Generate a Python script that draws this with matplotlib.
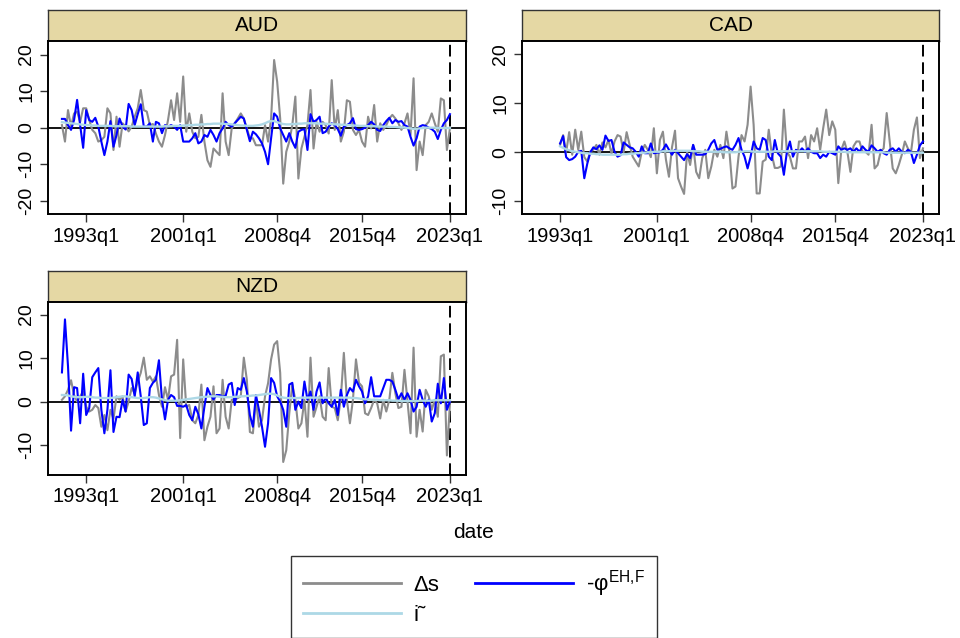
import numpy as np
import matplotlib.pyplot as plt

plt.rcParams['font.family'] = ['Liberation Sans', 'DejaVu Sans']
plt.rcParams['mathtext.fontset'] = 'custom'
plt.rcParams['mathtext.rm'] = 'Liberation Sans'
plt.rcParams['axes.unicode_minus'] = False

# quarterly data, Stata %tq style index (1960q1 = 0)
aud_ds = [0.7, -3.8, 4.8, 0.3, 3.9, 4.4, 1.6, 5.3, 5.3, 2.1,
          -0.6, -1.5, -3.8, -3.4, -2.5, 5.3, 3.9, -6.1, 3.0, -5.2,
          1.2, 0.3, -1.0, 0.3, 3.0, 5.3, 10.3, 4.8, 4.4, 0.7,
          1.0, -1.6, -3.8, -5.2, -2.0, 2.1, 7.5, 2.1, 9.4, 1.6,
          14.0, -1.1, 3.9, -1.1, -2.9, -2.5, 3.5, -3.8, -8.9, -10.7,
          -5.7, -6.6, -7.5, 9.4, -3.8, -7.5, -0.2, 1.2, 2.5, 3.9,
          2.5, -0.2, -2.9, -2.9, -4.8,
          -4.8, -4.8, 0.7, -3.8, 2.5, 18.5, 12.6, 2.5, -15.3, -6.6,
          -3.8, 0.7, 8.5, -13.9, -5.7, -2.5, 0.7, 10.3, -5.7, 1.6,
          -1.1, 1.6, 0.7, -1.6, 13.0, -0.6, 4.8, -3.8, -1.1, 7.5,
          7.1, -0.6, -2.0, -0.6, -3.8, -5.2, 3.0, -0.2, 6.2, -3.8,
          1.2, -0.6, 0.7, 2.5, 3.5, 2.5, 1.2, -0.6, 1.2, 3.9,
          -2.0, 13.5, -11.6, -3.8, -7.5, 0.7, 1.6, 3.9, 1.2, -1.1,
          8.0, 7.5, -6.1, -0.2]
aud_phi = [2.4, 2.4, 0.7, -0.6, 2.1, 7.6, 0.7, -5.5, 4.8, 2.1,
           1.6, 2.7, 0.3, -3.8, -7.5, -3.8, 1.8, -5.2, -2.0, 2.5,
           0.3, -0.5, 6.5, 4.8, 0.7, 3.7, 6.4, 0.3, 0.3, 1.2,
           -3.8, 1.6, 1.2, -1.5, 0.7, 0.3, 0.7, 0.3, -0.6, 0.7,
           -3.8, -3.8, -3.8, -2.9, -1.5, -4.3, -3.8, -2.0, -2.5, -0.6,
           -2.0, -3.8, -1.5, -0.2, 1.6, 0.7, 0.3, 1.2, 2.1, 3.0,
           2.5, -0.6, -3.7, -1.1, -1.8,
           -2.9, -4.3, -6.6, -10.0, -2.9, 3.9, 3.0, -0.2, -2.0, -3.8,
           -1.5, -3.8, -5.5, -1.1, -0.6, -0.4, -6.1, 3.7, 1.6, 2.1,
           3.0, -1.5, -1.1, 0.3, 1.2, 0.7, -0.4, -2.2, 0.3, 0.7,
           1.2, 2.6, -0.4, -0.6, -0.4, 0.0, 0.7, 1.6, 0.9, -0.6,
           -0.9, 0.7, 1.8, 2.7, 1.2, 2.1, 1.6, 1.8, 0.7, 0.3,
           -2.5, -4.9, -2.9, 0.3, 0.7, 0.5, 0.0, -0.4, -1.1, -3.1,
           -0.6, 1.2, 2.1, 3.7]
aud_i = [1.5, 1.4, 1.3, 1.2, 1.1, 1.0, 0.9, 0.8, 0.7, 0.7,
         0.6, 0.6, 0.5, 0.5, 0.5, 0.5, 0.5, 0.4, 0.4, 0.4,
         0.4, 0.4, 0.4, 0.3, 0.3, 0.3, 0.3, 0.3, 0.3, 0.3,
         0.3, 0.3, 0.3, 0.3, 0.4, 0.4, 0.4, 0.5, 0.5, 0.5,
         0.6, 0.6, 0.7, 0.7, 0.8, 0.8, 0.9, 0.9, 1.0, 1.0,
         1.1, 1.1, 1.1, 1.1, 1.0, 1.0, 0.9, 0.8, 0.7, 0.6,
         0.6, 0.5, 0.5, 0.5, 0.6, 0.7, 0.9, 1.2, 1.6, 1.8,
         1.8, 1.5, 1.2, 1.0, 0.9, 0.9, 1.0, 1.0, 1.1, 1.1,
         1.2, 1.2, 1.2, 1.2, 1.2, 1.1, 1.1, 1.1, 1.0, 1.0,
         0.9, 0.9, 0.8, 0.8, 0.7, 0.7, 0.6, 0.6, 0.5, 0.5,
         0.5, 0.4, 0.4, 0.4, 0.3, 0.3, 0.3, 0.3, 0.2, 0.2,
         0.2, 0.1, 0.1, 0.0, -0.1, -0.2, -0.3, -0.3, -0.2, -0.1,
         0.0, 0.0, 0.0, 0.0, -0.1, -0.1, -0.1, -0.1, -0.1]

cad_ds = [1.5, 3.5, 0.0, 4.1, -0.5, 4.6, 0.5, 4.2, -1.0, -1.9,
          0.2, 0.5, 1.5, -0.5, 2.0, 1.0, 2.5, -0.3, 2.2, 3.5,
          3.2, 0.0, 4.1, 1.5, -0.9, -1.9, -2.9, 0.1, 1.5, 0.5,
          -1.0, 4.9, -4.3, 2.5, 4.2, -1.5, -5.0, 1.0, 4.4, -5.3,
          -7.0, -8.5, 0.0, -2.6, 1.5, -4.0, -5.3, -1.2, 0.5, -5.3,
          -2.9, 0.5, -0.9, 1.5, -1.2,
          4.2, 0.1, -7.4, -7.0, -0.9, 3.5, 2.2, 5.6, 13.4, 5.6,
          -8.4, -8.4, -1.9, -1.5, 4.6, -0.5, -3.2, -3.2, -2.9,
          8.7, 0.1, -0.9, -3.3, -3.3, 2.2, 2.2, 3.2, -1.2, 3.5,
          2.2, 4.9, 0.5, 4.9, 8.7, 3.5, 6.3, 4.6, -6.3, 0.5,
          2.2, 0.1, -4.0, 1.2, 2.2, 2.2, 0.1, 0.1, -0.5, 5.6,
          -3.3, -2.6, 0.1, 0.8, 8.0, 2.2, -3.3, -4.3, -2.6, -0.5,
          2.2, 0.8, -0.2, 4.6, 7.1, -1.2, 0.8]
cad_phi = [1.8, 3.3, -1.0, -1.6, -1.4, -0.9, 0.1, 0.3, -5.3, -2.3,
           0.0, 1.0, 0.6, 1.4, 0.5, 3.4, 2.3, 2.5, 0.1, -0.9,
           -0.6, 2.0, 1.5, 1.0, 0.8, 0.1, -0.9, 1.2, -0.2, -0.2,
           1.8, -0.2, -0.1, 0.0, 0.5, 1.6, 0.5, -0.5, 0.5, -0.2,
           -0.9, -1.6, -0.4, -1.2, 1.5, -0.5, -0.5, -0.5, -0.4, 0.5,
           1.8, 2.5, 0.5, 0.7, 1.0,
           1.2, 0.8, 0.5, 1.5, 2.9, 0.5, -0.9, -3.3, -0.9, 2.2,
           0.8, 0.5, 2.9, 2.5, -0.9, -1.6, 2.5, -0.2, -0.9, -4.6,
           0.1, 2.2, -0.9, 0.5, 0.1, 0.8, 0.1, 0.8, 0.1, -0.2,
           -0.2, -1.2, -0.5, -0.9, 0.1, -0.2, -0.5, 1.2, 0.5, 0.8,
           0.5, 0.8, 0.1, 0.8, 0.1, 1.2, 0.5, 0.1, 1.4, 0.8,
           0.1, 0.5, -0.2, -0.5, 0.5, 0.8, 0.1, 0.8, 0.1, -0.2,
           0.5, 0.1, -2.2, -0.5, 1.4, 2.2]
cad_i = [1.2, 0.9, 0.6, 0.4, 0.2, 0.1, 0.0, -0.1, -0.2, -0.2,
         -0.3, -0.3, -0.4, -0.4, -0.5, -0.5, -0.5, -0.5, -0.5, -0.5,
         -0.5, -0.4, -0.4, -0.3, -0.3, -0.2, -0.2, -0.1, -0.1, 0.0,
         0.0, 0.1, 0.1, 0.1, 0.2, 0.2, 0.2, 0.3, 0.3, 0.3,
         0.3, 0.3, 0.3, 0.3, 0.2, 0.2, 0.2, 0.1, 0.1, 0.1,
         0.1, 0.1, 0.1, 0.1, 0.0, 0.0, 0.0, 0.0, 0.0, 0.1,
         0.1, 0.2, 0.2, 0.2, 0.1, 0.1, 0.1, 0.1, 0.1, 0.1,
         0.1, 0.2, 0.2, 0.2, 0.2, 0.2, 0.2, 0.2, 0.2, 0.2,
         0.2, 0.2, 0.2, 0.2, 0.2, 0.2, 0.2, 0.1, 0.1, 0.1,
         0.1, 0.1, 0.1, 0.1, 0.1, 0.0, 0.0, 0.0, 0.0, 0.0,
         0.0, 0.0, 0.0, 0.0, 0.0, 0.0, 0.0, 0.0, -0.1, -0.1,
         -0.1, -0.1, -0.1, -0.1, -0.1, -0.1, -0.1, -0.1, -0.1, -0.1,
         -0.1]

nzd_ds = [0.4, 1.2, 2.7, 4.9, 1.5, 0.0, 1.2, 2.3, -1.2, -2.3,
          -1.9, -0.8, -1.5, -5.8, -3.1, -6.6, -1.9, -4.0, 1.2, 0.4,
          1.2, -2.3, 0.0, 3.1, 1.9, 4.6, 6.6, 10.1, 5.0, 5.8,
          4.6, 5.8, 1.5, -1.2, 3.3, 0.4, 5.8, 6.2, 14.2, -8.4,
          9.7, -1.2, -0.8, -4.3, -5.0, -3.1, 3.9, -8.9, -5.8, -3.5,
          3.5, -7.3, -6.2, 5.0, -3.5, -6.2, 0.4, 0.4, 0.8, 1.2,
          10.1, 5.0, -7.0, -7.3, 0.4,
          -5.8, -4.3, 1.2, 4.2, 9.7, 13.1, 13.9, 6.6, -13.9, -11.2,
          -2.7, 3.9, 0.4, -6.2, -5.0, 0.4, -8.1, 10.1, -3.5, -1.2,
          1.2, -3.5, -4.3,
          7.7, -1.2, -1.5, -4.3, 0.8, 11.2, 0.4, -5.0, 0.4, 9.7,
          4.3, 3.5, -2.7, -3.1, -1.5, 0.4, -0.4, -3.9, 0.4, -2.3,
          0.4, 6.6, 1.9, -1.5, -1.2, 7.3, 0.0, -7.3,
          12.4, -8.1, -1.9, -6.9, 2.7, 1.2, -1.9, 0.4, -3.5, 10.4,
          10.8, -12.4, -0.4]
nzd_phi = [6.7, 18.9, 8.1, -6.7, 3.3, 3.1, -5.0, 6.4, -3.1, -1.5,
           5.6, 6.7, 7.7, -1.9, -7.3, -1.9, 7.2, -7.0, -3.5, -3.6,
           0.4, -2.3, 6.2, 5.2, 1.2, 6.7, 1.2, -5.4, -5.0, 3.1,
           4.3, 5.0, 9.5, 0.4, -4.1, 0.4, 1.5, 1.0, -1.0, -1.0,
           -1.2, -0.8, -3.1, -4.3, -1.2, -2.9, -6.2, -1.2, 3.1, 1.5,
           0.5, 1.5, 1.5, 1.2, 1.3, 3.9, 4.3, -0.8, 3.1, 2.7,
           5.4, 2.3, -3.1, -5.8, 1.5,
           -1.9, -5.8, -10.4, -5.0, 5.4, 4.3, 1.2, 0.0, -1.9, -5.8,
           3.9, 4.3, -1.9, 0.0, -1.5, 4.6, 0.4, 2.3, -1.9, 2.3,
           4.4, -0.4, 0.8, -0.4, -1.2, 0.4, -3.1, 2.7, -1.2, 1.5,
           3.1, 2.3, 5.0, 3.5, 2.3, -0.4, 1.2, 5.6, 1.2, 1.2,
           1.2, 3.1, 5.0, 5.0, 4.6, 2.7, 0.5, 1.9, 0.4, 1.9,
           0.4, -2.3, -1.2, 2.7, 0.4, -1.2, 0.4, -4.6, -2.7, 4.1,
           -0.4, 5.4, -1.9, 0.0]
nzd_i = [1.5, 1.5, 1.4, 1.2, 1.1, 1.0, 1.0, 1.0, 1.1, 1.1,
         1.0, 0.9, 0.9, 0.8, 0.8, 0.8, 0.8, 0.9, 1.0, 1.1,
         1.2, 1.2, 1.1, 1.0, 0.9, 0.8, 0.8, 0.8, 0.9, 1.0,
         1.0, 0.9, 0.7, 0.5, 0.3, 0.2, 0.2, 0.2, 0.2, 0.3,
         0.4, 0.5, 0.6, 0.7, 0.8, 0.9, 1.0, 1.1, 1.1, 1.2,
         1.2, 1.2, 1.1, 1.1, 1.0, 1.0, 1.0, 1.1, 1.1, 1.2,
         1.2, 1.3, 1.3, 1.4, 1.4, 1.5, 1.6, 1.7, 1.8, 1.8,
         1.7, 1.4, 1.1, 0.9, 0.8, 0.8, 0.8, 0.8, 0.8, 0.9,
         0.9, 0.9, 0.9, 0.9, 0.9, 0.9, 0.9, 0.9, 0.9, 0.9,
         0.9, 0.9, 0.9, 0.9, 0.9, 0.9, 0.8, 0.8, 0.7, 0.6,
         0.5, 0.5, 0.4, 0.4, 0.4, 0.3, 0.3, 0.3, 0.3, 0.2,
         0.2, 0.2, 0.1, 0.1, 0.1, 0.1, 0.1, 0.1, 0.2, 0.2,
         0.2, 0.2, 0.2, 0.3, 0.3, 0.3, 0.3, 0.3, 0.3]


def tq(year, q):
    return (year - 1960) * 4 + q - 1


tick_pos = [tq(1993, 1), tq(2001, 1), tq(2008, 4), tq(2015, 4), tq(2023, 1)]
tick_lab = ["1993q1", "2001q1", "2008q4", "2015q4", "2023q1"]

W, H = 960, 638
fig = plt.figure(figsize=(9.6, 6.38), dpi=100)


def box(x0, y0, x1, y1):
    return fig.add_axes([x0 / W, 1 - y1 / H, (x1 - x0) / W, (y1 - y0) / H])


panels = [
    ("AUD", aud_ds, aud_phi, aud_i, tq(1991, 1), (-23.6, 23.7), [-20, -10, 0, 10, 20], (48, 10, 466, 41, 214)),
    ("CAD", cad_ds, cad_phi, cad_i, tq(1993, 1), (-12.6, 22.7), [-10, 0, 10, 20], (522, 10, 939, 41, 214)),
    ("NZD", nzd_ds, nzd_phi, nzd_i, tq(1991, 1), (-16.9, 22.9), [-10, 0, 10, 20], (48, 271, 466, 302, 475)),
]

handles = None
for name, ds, phi, itil, start, ylim, yt, (x0, yh, x1, y0, y1) in panels:
    hd = box(x0, yh, x1, y0)
    hd.set_facecolor('#e5d8a4')
    hd.set_xticks([])
    hd.set_yticks([])
    for s in hd.spines.values():
        s.set_color('#333333')
        s.set_linewidth(1.0)
    hd.text(0.5, 0.5, name, ha='center', va='center', fontsize=15, transform=hd.transAxes)

    ax = box(x0, y0, x1, y1)
    t = start + np.arange(len(ds))
    ax.axhline(0, color='black', lw=1.3, zorder=1)
    ax.axvline(tq(2023, 1), color='black', lw=1.4, ls=(0, (6, 3)), zorder=1)
    l1, = ax.plot(t, ds, color='#8c8c8c', lw=1.5, label='Δs')
    l2, = ax.plot(t, phi, color='#0000ff', lw=1.5, label='-φ$^{\\mathrm{EH{,}F}}$')
    l3, = ax.plot(t, itil, color='#add8e6', lw=1.7, label='i\u02dc')
    handles = [l1, l3, l2]
    ax.set_xlim(119.4, 257.3)
    ax.set_ylim(*ylim)
    ax.set_yticks(yt)
    ax.set_xticks(tick_pos)
    ax.set_xticklabels(tick_lab)
    ax.tick_params(axis='x', labelsize=14.5, length=6, width=1, color='#333333', pad=3)
    ax.tick_params(axis='y', labelsize=14, length=6, width=1, color='#333333', pad=3)
    for lab in ax.get_yticklabels():
        lab.set_rotation(90)
        lab.set_va('center')
    for s in ax.spines.values():
        s.set_linewidth(1.4)
        s.set_color('black')

fig.text(474 / W, 1 - 533 / H, 'date', ha='center', va='center', fontsize=15)

leg = fig.legend(handles, [h.get_label() for h in handles], ncol=2,
                 loc='center', bbox_to_anchor=(474 / W, 1 - 597 / H),
                 fontsize=16, handlelength=4.4, handletextpad=0.6,
                 columnspacing=1.6, labelspacing=0.4, borderpad=0.55,
                 frameon=True, fancybox=False)
leg.get_frame().set_edgecolor('black')
leg.get_frame().set_linewidth(1.0)
for ln in leg.get_lines():
    ln.set_linewidth(2.0)

fig.savefig('out.png', dpi=100)
